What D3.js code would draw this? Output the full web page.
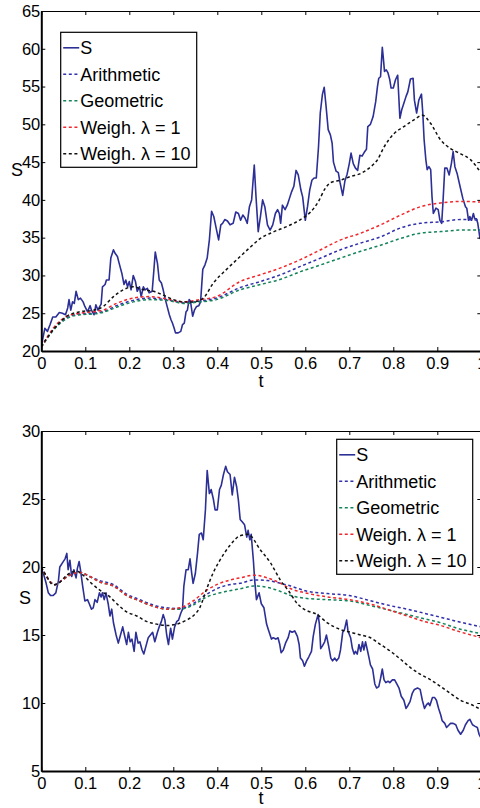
<!DOCTYPE html>
<html><head><meta charset="utf-8">
<script src="https://cdn.jsdelivr.net/npm/d3@7"></script>
<style>
body{margin:0;background:#fff;}
svg{display:block;}
text{font-family:"Liberation Sans",Arial,Helvetica,sans-serif;fill:#000;}
</style></head>
<body>
<svg id="c" width="480" height="808"></svg>
<script>
// ---------- data ----------
const xTicks = [0,0.1,0.2,0.3,0.4,0.5,0.6,0.7,0.8,0.9,1];
const xTickLabels = ["0","0.1","0.2","0.3","0.4","0.5","0.6","0.7","0.8","0.9","1"];
const yTicksTop = [20,25,30,35,40,45,50,55,60,65];
const yTicksBot = [5,10,15,20,25,30];
const legendLabels = ["S","Arithmetic","Geometric","Weigh. \u03bb = 1","Weigh. \u03bb = 10"];

// top panel: S path
const topST = [0,.008,.014,.02,.026,.033,.041,.048,.055,.06,.063,.067,.071,.075,.079,.084,.089,.095,.099,.105,.111,.114,.12,.124,.129,.133,.136,.139,.145,.148,.154,.158,.164,.167,.173,.177,.183,.188,.192,.196,.2,.204,.209,.214,.218,.223,.227,.232,.236,.241,.245,.252,.256,.259,.264,.268,.273,.277,.282,.286,.291,.295,.298,.302,.305,.311,.317,.321,.325,.329,.332,.336,.339,.344,.348,.353,.358,.362,.367,.372,.377,.382,.387,.392,.398,.403,.408,.412,.417,.423,.429,.436,.442,.448,.453,.458,.463,.468,.473,.478,.484,.488,.493,.498,.503,.508,.514,.52,.526,.532,.537,.541,.544,.548,.554,.559,.564,.569,.574,.579,.584,.59,.594,.6,.605,.61,.615,.62,.625,.63,.634,.639,.643,.647,.652,.657,.661,.664,.67,.675,.679,.685,.69,.695,.7,.704,.709,.714,.719,.724,.729,.734,.739,.742,.748,.754,.76,.764,.767,.771,.775,.777,.78,.784,.788,.792,.795,.8,.805,.81,.815,.819,.824,.829,.833,.839,.845,.848,.853,.858,.864,.867,.87,.874,.877,.881,.885,.888,.891,.897,.902,.906,.91,.913,.917,.922,.927,.932,.936,.94,.945,.952,.958,.964,.967,.971,.974,.978,.982,.985,.989,.992,.997,1];
const topSV = [20.6,23.0,22.6,23.5,24.5,24.5,25.1,25.0,24.8,25.7,26.8,25.4,26.5,26.3,27.9,26.8,27.0,26.5,25.9,25.2,26.0,25.4,24.8,26.1,25.4,25.9,26.2,28.5,28.8,29.4,29.4,32.3,33.4,33.0,32.5,31.6,30.3,28.8,29.4,28.5,29.2,28.1,30.0,29.2,27.9,28.5,27.2,28.5,28.1,28.3,27.7,27.9,30.8,33.1,31.6,29.4,29.0,28.1,26.8,25.9,24.8,24.1,23.7,23.0,22.4,22.4,22.6,23.5,23.7,25.2,25.4,26.8,26.6,24.6,25.4,25.9,26.0,26.5,30.8,31.4,32.3,34.7,38.5,37.8,36.1,34.7,36.7,36.9,37.4,37.2,36.7,36.9,38.4,38.2,37.3,38.0,37.6,36.9,39.1,40.0,44.6,40.4,35.8,37.8,40.0,39.1,36.7,36.0,36.7,38.2,38.7,38.2,36.9,39.3,38.7,39.3,40.2,41.1,41.8,43.9,43.3,41.3,40.4,37.3,39.1,41.3,42.6,42.9,42.9,47.0,51.5,54.0,54.9,52.5,49.3,48.6,47.5,45.0,43.8,43.6,42.3,40.6,42.5,43.4,44.8,46.2,44.8,44.2,43.9,45.9,45.8,46.3,46.7,49.7,50.0,51.0,53.0,55.0,56.1,56.3,60.2,59.0,57.0,57.2,56.8,55.9,54.8,54.8,55.9,56.5,50.8,51.9,52.8,53.7,54.3,56.0,56.1,53.2,51.5,53.2,54.0,51.5,48.0,45.3,44.0,44.4,44.0,40.4,38.2,38.9,38.7,37.3,36.9,39.8,44.2,44.2,43.3,44.8,46.4,44.4,43.5,41.7,40.2,39.1,38.9,37.3,37.8,37.3,38.2,37.5,37.5,36.9,34.9,35.0];

// top panel: averages
const topW10T = [0,.027,.058,.088,.118,.141,.164,.186,.209,.232,.255,.277,.3,.323,.345,.368,.391,.421,.452,.476,.498,.529,.559,.589,.612,.63,.645,.658,.68,.703,.726,.749,.764,.779,.802,.824,.847,.866,.885,.908,.93,.953,.976,1];
const topW10V = [20.6,22.8,24.6,25.2,25.4,25.9,27.2,28.1,28.5,28.1,27.9,27.4,26.8,26.5,26.5,27.0,29.0,30.8,32.5,33.8,34.9,35.8,36.5,37.4,38.4,39.8,41.5,42.3,42.6,43.1,43.5,44.4,45.3,47.0,48.8,49.7,50.6,51.2,50.1,47.9,46.8,46.1,45.3,43.5];
const topAvgT = [0,.027,.058,.088,.118,.14,.171,.209,.247,.285,.323,.36,.398,.452,.498,.544,.589,.635,.68,.726,.771,.817,.862,.908,.953,1];
const topW1V  = [20.5,23.0,24.6,25.0,25.2,25.4,26.3,27.0,27.2,26.9,26.5,26.8,27.2,29.2,30.1,31.0,32.1,33.4,34.7,35.6,36.7,38.0,39.1,39.6,39.8,39.7];
const topAriV = [20.5,22.8,24.4,24.9,25.0,25.2,26.0,26.7,27.0,26.8,26.4,26.6,27.0,28.4,29.2,30.1,31.2,32.3,33.4,34.3,35.1,36.3,36.9,37.1,37.4,37.3];
const topGeoV = [20.5,22.7,24.3,24.8,24.9,25.1,25.8,26.5,26.8,26.7,26.3,26.5,26.8,28.1,28.8,29.5,30.5,31.4,32.3,33.2,34.0,34.9,35.6,35.8,36.0,36.0];

// bottom panel: S path
const botST = [0,.005,.011,.016,.021,.027,.033,.039,.042,.048,.054,.058,.061,.065,.069,.074,.079,.082,.086,.089,.094,.099,.105,.109,.114,.118,.122,.127,.132,.136,.139,.143,.147,.152,.156,.16,.164,.17,.175,.18,.185,.189,.194,.198,.202,.206,.211,.215,.22,.224,.229,.233,.238,.243,.248,.253,.258,.264,.268,.273,.277,.281,.285,.289,.294,.298,.303,.308,.312,.317,.321,.324,.329,.334,.338,.342,.345,.35,.355,.359,.364,.368,.373,.377,.382,.386,.391,.395,.4,.405,.409,.414,.419,.423,.429,.434,.439,.444,.448,.452,.457,.462,.467,.47,.474,.477,.482,.485,.489,.495,.5,.506,.512,.517,.523,.527,.533,.538,.542,.545,.55,.555,.561,.565,.57,.576,.582,.586,.589,.594,.598,.603,.608,.614,.618,.623,.629,.632,.635,.639,.644,.648,.653,.658,.662,.667,.671,.676,.68,.685,.689,.694,.697,.703,.707,.711,.714,.718,.722,.726,.73,.733,.737,.741,.745,.748,.753,.758,.762,.767,.771,.775,.779,.783,.788,.792,.798,.803,.808,.813,.818,.824,.829,.833,.838,.843,.848,.855,.861,.866,.871,.876,.88,.883,.889,.894,.898,.903,.908,.911,.917,.921,.927,.93,.936,.942,.947,.953,.959,.964,.97,.974,.98,.985,.991,.995,1];
const botSV = [19.9,19.5,18.8,18.1,17.9,17.9,18.1,19.0,20.0,20.3,20.6,21.0,19.8,20.5,19.3,19.8,19.2,19.9,20.4,19.8,18.6,17.5,17.6,17.3,16.9,17.0,17.6,17.4,18.1,17.8,18.1,17.6,18.1,17.3,16.4,16.9,15.9,15.0,14.4,15.0,15.6,15.0,14.3,15.2,14.5,14.7,13.8,15.2,14.4,14.5,13.9,13.6,14.2,14.8,15.0,15.2,14.5,15.2,15.6,16.0,16.5,16.1,15.0,14.3,15.5,14.7,15.6,16.0,16.1,16.6,16.9,18.6,19.8,19.8,20.6,19.5,18.8,19.5,21.0,22.4,22.5,22.0,24.2,27.1,25.4,25.7,25.0,24.2,24.2,25.7,26.0,26.8,27.4,27.0,26.8,25.3,26.6,25.9,24.9,23.5,23.3,23.1,22.2,22.7,22.0,22.4,20.5,19.0,17.6,18.1,17.3,17.0,15.8,15.3,14.7,14.8,14.7,14.8,14.3,13.7,13.9,14.4,14.8,15.3,15.2,15.3,14.9,14.3,13.3,13.1,12.7,13.1,13.4,13.8,14.9,15.8,16.5,15.8,14.0,14.2,14.5,15.0,14.2,13.3,13.1,13.3,13.1,13.3,13.9,15.2,15.4,16.1,15.3,14.8,14.0,13.6,13.8,13.6,14.3,13.8,14.5,13.9,14.5,13.9,13.3,12.8,12.5,11.4,11.1,11.2,11.8,12.5,11.7,11.5,11.6,11.5,11.7,11.7,11.4,11.1,10.5,10.2,9.6,9.8,10.1,10.7,11.0,11.1,11.0,10.2,9.6,9.9,10.0,9.8,10.4,10.4,10.2,9.6,9.1,8.7,8.5,8.2,8.4,8.5,8.5,8.4,8.0,7.7,8.0,8.4,8.7,8.8,8.4,8.3,8.2,7.7,7.4];

// bottom panel: averages
const botW10T = [0,.012,.027,.039,.058,.08,.095,.114,.133,.156,.175,.194,.217,.239,.262,.285,.308,.33,.345,.36,.376,.391,.406,.429,.452,.47,.498,.521,.544,.563,.582,.597,.627,.65,.68,.703,.726,.748,.771,.794,.817,.839,.862,.885,.908,.93,.953,.976,1];
const botW10V = [20.0,19.3,18.7,18.8,19.4,19.7,19.4,18.8,18.3,17.8,17.2,16.7,16.4,16.0,15.8,15.7,15.8,16.1,16.4,17.0,18.4,19.6,20.5,21.6,22.3,22.4,21.25,20.3,19.0,18.2,17.3,16.9,16.5,15.9,15.4,15.2,15.0,14.8,14.3,13.8,13.2,12.6,12.1,11.7,11.2,10.7,10.2,9.9,9.5];
const botAvgT = [0,.012,.031,.046,.065,.088,.11,.133,.164,.194,.224,.255,.285,.315,.345,.376,.406,.436,.452,.483,.514,.544,.567,.6,.65,.7,.756,.794,.832,.87,.908,.945,1];
const botW1V  = [20.0,19.3,18.7,19.0,19.4,19.6,19.3,18.9,18.6,17.9,17.5,17.1,16.9,17.0,17.5,18.3,18.8,19.1,19.2,19.4,19.2,18.8,18.4,18.1,17.8,17.6,17.2,16.8,16.4,16.0,15.7,15.3,14.8];
const botAriV = [20.0,19.3,18.7,19.0,19.4,19.6,19.3,19.0,18.7,18.0,17.6,17.2,17.0,16.95,17.3,18.0,18.5,18.75,18.8,19.05,19.0,18.8,18.6,18.25,18.05,17.9,17.45,17.15,16.9,16.6,16.3,16.0,15.6];
const botGeoV = [20.0,19.3,18.7,19.0,19.4,19.6,19.3,18.9,18.6,17.9,17.5,17.1,16.9,16.9,17.2,17.8,18.1,18.3,18.4,18.6,18.5,18.2,17.9,17.7,17.6,17.5,17.1,16.8,16.5,16.2,15.9,15.5,15.1];

// ---------- drawing ----------
const svg = d3.select("#c");
const colS = "#2c2f95", colAri = "#3030ad", colGeo = "#14845a", colW1 = "#f2272b", colW10 = "#111111";
const x0 = 41.3, x1 = 481.3;

function panel(cfg){
  const x = d3.scaleLinear().domain([0,1]).range([x0,x1]);
  const y = d3.scaleLinear().domain(cfg.yDomain).range([cfg.yBottom,cfg.yTop]);
  const g = svg.append("g");
  const clipId = "clip"+cfg.id;
  svg.append("clipPath").attr("id",clipId).append("rect")
    .attr("x",x0).attr("y",cfg.yTop).attr("width",x1-x0).attr("height",cfg.yBottom-cfg.yTop);
  const plot = g.append("g").attr("clip-path",`url(#${clipId})`);

  const mk = (T,V,curve) => d3.line().x((d,i)=>x(T[i])).y((d,i)=>y(V[i])).curve(curve)(V);
  const dashed = [
    [cfg.avgT,cfg.ari,colAri],[cfg.avgT,cfg.geo,colGeo],[cfg.avgT,cfg.w1,colW1],[cfg.w10T,cfg.w10,colW10]
  ];
  plot.append("path").attr("d",mk(cfg.sT,cfg.sV,d3.curveLinear))
    .attr("fill","none").attr("stroke",colS).attr("stroke-width",1.6).attr("stroke-linejoin","round");
  dashed.forEach(([T,V,c])=>{
    plot.append("path").attr("d",mk(T,V,d3.curveMonotoneX))
      .attr("fill","none").attr("stroke",c).attr("stroke-width",1.5).attr("stroke-dasharray","3,2.6");
  });

  // axes
  const ax = g.append("g").attr("transform",`translate(0,${cfg.yBottom})`)
    .call(d3.axisBottom(x).tickValues(xTicks).tickFormat((d,i)=>xTickLabels[i]).tickSizeInner(-4).tickSizeOuter(0).tickPadding(6));
  const axT = g.append("g").attr("transform",`translate(0,${cfg.yTop})`)
    .call(d3.axisTop(x).tickValues(xTicks).tickFormat("").tickSizeInner(-4).tickSizeOuter(0));
  const ayL = g.append("g").attr("transform",`translate(${x0},0)`)
    .call(d3.axisLeft(y).tickValues(cfg.yTicks).tickFormat(d3.format("d")).tickSizeInner(-4).tickSizeOuter(0).tickPadding(1));
  const ayR = g.append("g").attr("transform",`translate(${x1},0)`)
    .call(d3.axisRight(y).tickValues(cfg.yTicks).tickFormat("").tickSizeInner(-4).tickSizeOuter(0));
  [ax,axT,ayL,ayR].forEach(a=>{
    a.selectAll("line").attr("stroke","#000").attr("stroke-width",1);
    a.selectAll(".domain").attr("stroke","#000").attr("stroke-width",1);
    a.selectAll("text").attr("font-size",16.5).attr("fill","#000")
      .attr("font-family","Liberation Sans, Arial, sans-serif");
  });
  ax.select(".domain").attr("stroke-width",2);
  ayL.select(".domain").attr("stroke-width",2);

  // labels
  g.append("text").attr("x",261).attr("y",cfg.tY).attr("text-anchor","middle").attr("font-size",18).text("t");
  g.append("text").attr("x",cfg.sLab[0]).attr("y",cfg.sLab[1]).attr("text-anchor","middle").attr("font-size",18).text("S");

  // legend
  const lg = g.append("g").attr("transform",`translate(${cfg.leg[0]},${cfg.leg[1]})`);
  lg.append("rect").attr("width",136).attr("height",135).attr("fill","#fff").attr("stroke","#000").attr("stroke-width",1.2);
  const legCols = [colS,colAri,colGeo,colW1,colW10];
  legendLabels.forEach((lab,i)=>{
    const yy = 15.5 + i*26.5;
    lg.append("line").attr("x1",2.5).attr("x2",18.5).attr("y1",yy).attr("y2",yy)
      .attr("stroke",legCols[i]).attr("stroke-width",i===0?1.6:1.5)
      .attr("stroke-dasharray",i===0?null:"3,2.6");
    lg.append("text").attr("x",19.5).attr("y",yy+6.3).attr("font-size",18).text(lab);
  });
}

panel({id:"a",yDomain:[20,65],yTop:11,yBottom:351,yTicks:yTicksTop,
  sT:topST,sV:topSV,avgT:topAvgT,ari:topAriV,geo:topGeoV,w1:topW1V,w10T:topW10T,w10:topW10V,
  tY:387,sLab:[17,176],leg:[60.7,32.3]});
panel({id:"b",yDomain:[5,30],yTop:431,yBottom:771,yTicks:yTicksBot,
  sT:botST,sV:botSV,avgT:botAvgT,ari:botAriV,geo:botGeoV,w1:botW1V,w10T:botW10T,w10:botW10V,
  tY:804,sLab:[25,604],leg:[336.7,439.3]});
</script>
</body></html>
